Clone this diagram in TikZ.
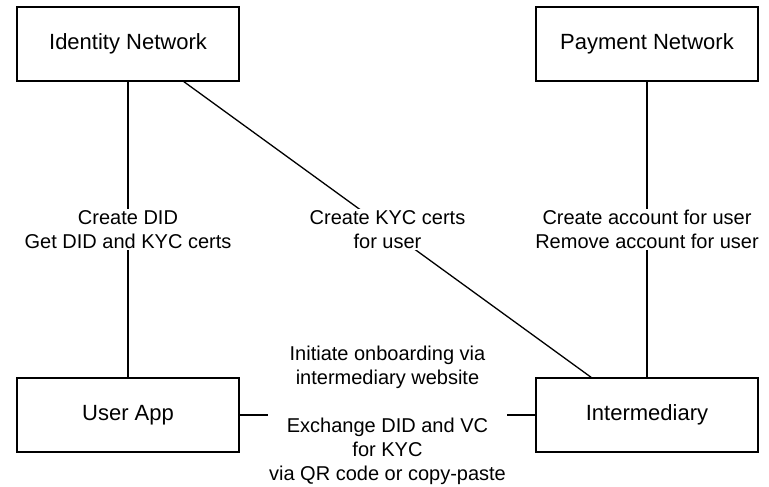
\documentclass[tikz,border=0pt]{standalone}
\usepackage{fontspec}
\setmainfont{Liberation Sans}
\usetikzlibrary{calc}
\begin{document}
\begin{tikzpicture}[x=1pt,y=-1pt,
  box/.style={draw=black,line width=1.3pt,minimum width=222pt,minimum height=74pt,inner sep=0pt,font=\fontsize{22}{26}\selectfont},
  lbl/.style={fill=white,inner sep=1pt,align=center,font=\fontsize{20}{24}\selectfont},
  conn/.style={draw=black,line width=1.3pt}]
\useasboundingbox (0,0) rectangle (769,487);
\node[box] (id) at (128,44) {Identity Network};
\node[box] (pn) at (647,44) {Payment Network};
\node[box] (ua) at (128,415) {User App};
\node[box] (im) at (647,415) {Intermediary};
\coordinate (ids) at ($(id.south west)!0.75!(id.south east)$);
\coordinate (imn) at ($(im.north west)!0.25!(im.north east)$);
\draw[conn] (id) -- node[lbl] (l1) {Create DID\\Get DID and KYC certs} (ua);
\draw[conn] (ids) -- node[lbl] (l2) {Create KYC certs\\for user} (imn);
\draw[conn] (pn) -- node[lbl] (l3) {Create account for user\\Remove account for user} (im);
\draw[conn] (ua) -- node[lbl] (l4) {Initiate onboarding via\\intermediary website\\[24pt]Exchange DID and VC\\for KYC\\via QR code or copy-paste} (im);
\end{tikzpicture}
\end{document}
